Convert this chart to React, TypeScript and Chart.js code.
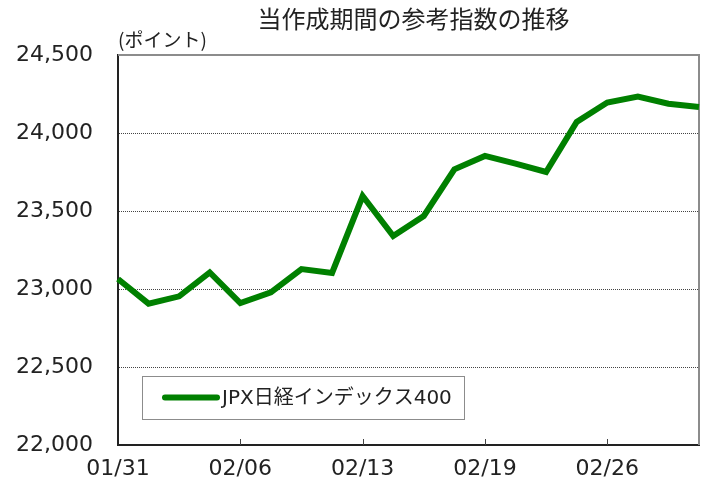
import React, { useEffect, useRef } from "react";
import { Chart, registerables } from "chart.js";

Chart.register(...registerables);

const TITLE = "当作成期間の参考指数の推移";
const Y_UNIT = "(ポイント)";
const SERIES_NAME = "JPX日経インデックス400";

const dates = [
  "01/31", "02/01", "02/02", "02/05", "02/06", "02/07", "02/08", "02/09",
  "02/13", "02/14", "02/15", "02/16", "02/19", "02/20", "02/21", "02/22",
  "02/26", "02/27", "02/28", "02/29",
];
const values = [
  23064, 22906, 22953, 23106, 22910, 22978, 23128, 23103,
  23596, 23340, 23468, 23767, 23853, 23804, 23750, 24071,
  24195, 24233, 24188, 24167,
];
const shownDateIdx = [0, 4, 8, 12, 16];
const yMin = 22000;
const yMax = 24500;
const yStep = 500;

const LINE_COLOR = "#008000";
const NUM_FONT = "'DejaVu Sans', 'Noto Sans CJK JP', sans-serif";
const JP_FONT = "'Noto Sans CJK JP', sans-serif";

const decor = {
  id: "decor",
  beforeDatasetsDraw(chart: any) {
    const { ctx, chartArea: a, scales } = chart;
    ctx.save();
    ctx.strokeStyle = "#8c8c8c";
    ctx.lineWidth = 2;
    ctx.beginPath();
    ctx.moveTo(a.left, a.top);
    ctx.lineTo(a.right, a.top);
    ctx.lineTo(a.right, a.bottom);
    ctx.stroke();
    ctx.strokeStyle = "#444";
    ctx.lineWidth = 1;
    shownDateIdx.forEach((i) => {
      if (i === 0) return;
      const x = Math.round(scales.x.getPixelForValue(i)) + 0.5;
      ctx.beginPath();
      ctx.moveTo(x, a.bottom);
      ctx.lineTo(x, a.bottom - 6);
      ctx.stroke();
    });
    ctx.restore();
  },
  afterDraw(chart: any) {
    const { ctx, chartArea: a } = chart;
    ctx.save();
    ctx.fillStyle = "#222";
    ctx.font = `24px ${JP_FONT}`;
    ctx.textAlign = "center";
    ctx.textBaseline = "middle";
    ctx.fillText(TITLE, (a.left + a.right) / 2 + 5, 19);
    ctx.font = `19px ${JP_FONT}`;
    ctx.textAlign = "left";
    ctx.fillText(Y_UNIT, a.left, 40);
    const bx = a.left + 24;
    const by = a.bottom - 69;
    const bw = 322;
    const bh = 43;
    ctx.fillStyle = "#fff";
    ctx.fillRect(bx, by, bw, bh);
    ctx.strokeStyle = "#8c8c8c";
    ctx.lineWidth = 1;
    ctx.strokeRect(bx + 0.5, by + 0.5, bw, bh);
    const cy = by + bh / 2;
    ctx.strokeStyle = LINE_COLOR;
    ctx.lineWidth = 6;
    ctx.lineCap = "round";
    ctx.beginPath();
    ctx.moveTo(bx + 23, cy);
    ctx.lineTo(bx + 75, cy);
    ctx.stroke();
    ctx.fillStyle = "#222";
    ctx.font = `20px ${NUM_FONT}`;
    ctx.textAlign = "left";
    ctx.textBaseline = "middle";
    ctx.fillText(chart.data.datasets[0].label, bx + 80, cy + 1);
    ctx.restore();
  },
};

export default function App() {
  const ref = useRef<HTMLCanvasElement | null>(null);
  useEffect(() => {
    document.body.style.margin = "0";
    const chart = new Chart(ref.current as HTMLCanvasElement, {
      type: "line",
      data: {
        labels: dates,
        datasets: [
          {
            label: SERIES_NAME,
            data: values,
            borderColor: LINE_COLOR,
            backgroundColor: LINE_COLOR,
            borderWidth: 6,
            pointRadius: 0,
            tension: 0,
            fill: false,
          },
        ],
      },
      options: {
        animation: false,
        responsive: true,
        maintainAspectRatio: false,
        layout: { padding: { top: 55, right: 5, left: 0, bottom: 0 } },
        plugins: {
          legend: { display: false },
          title: { display: false },
          tooltip: { enabled: false },
        },
        scales: {
          x: {
            offset: false,
            grid: { display: false, drawTicks: false },
            border: { display: true, color: "#222", width: 2 },
            ticks: {
              autoSkip: false,
              maxRotation: 0,
              padding: 11,
              color: "#222",
              font: { family: NUM_FONT, size: 22 },
              callback: (_v: any, i: number) =>
                shownDateIdx.includes(i) ? dates[i] : "",
            },
            afterFit: (s: any) => {
              s.height = 37;
              s.paddingLeft = 0;
              s.paddingRight = 0;
            },
          },
          y: {
            min: yMin,
            max: yMax,
            grid: {
              drawTicks: false,
              color: (c: any) =>
                c.tick && (c.tick.value === yMax || c.tick.value === yMin)
                  ? "rgba(0,0,0,0)"
                  : "#444",
              lineWidth: 1,
            },
            border: { display: true, color: "#222", width: 2, dash: [1, 1] },
            ticks: {
              stepSize: yStep,
              padding: 25,
              color: "#222",
              font: { family: NUM_FONT, size: 22 },
              callback: (v: any) => Number(v).toLocaleString("en-US"),
            },
            afterFit: (s: any) => {
              s.width = 118;
              s.paddingTop = 0;
              s.paddingBottom = 0;
            },
          },
        },
      },
      plugins: [decor],
    });
    return () => chart.destroy();
  }, []);
  return (
    <div style={{ width: 704, height: 482, position: "relative" }}>
      <canvas ref={ref} />
    </div>
  );
}
